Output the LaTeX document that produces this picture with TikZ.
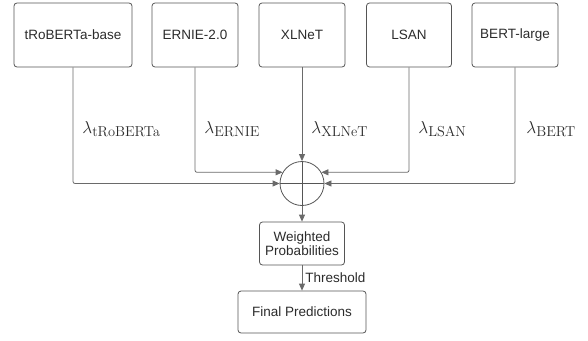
\documentclass[tikz,border=0pt]{standalone}
\usepackage[no-math]{fontspec}
\setmainfont{Liberation Sans}
\usetikzlibrary{arrows.meta}
\definecolor{edgegray}{HTML}{6A6A6A}
\definecolor{boxgray}{HTML}{555555}
\definecolor{textgray}{HTML}{2B2B2B}
\begin{document}
\begin{tikzpicture}[
      x=1pt, y=-1pt,
      thick,
      box/.style={
          rectangle, rounded corners=3pt,
          align=center,
          draw=boxgray, text=textgray,
          font=\fontsize{13.5}{15.5}\selectfont,
          minimum height=64pt, minimum width=86pt,
        },
      small/.style={box, minimum height=43pt},
      weight/.style={
          anchor=base west, inner sep=0pt, text=textgray,
          font=\fontsize{19}{22}\selectfont,
        },
      arr/.style={draw=edgegray, rounded corners=2pt,
          -{Triangle[length=7pt, width=6pt]}},
    ]
    \useasboundingbox (0,0) rectangle (588,340);

    % models
    \node[box, minimum width=118pt] (rob) at (73,35) {tRoBERTa-base};
    \node[box] (ern) at (195,35) {ERNIE-2.0};
    \node[box] (xln) at (302,35) {XLNeT};
    \node[box, minimum width=85pt] (lsa) at (409,35) {LSAN};
    \node[box] (ber) at (515,35) {BERT-large};

    % weighted sum
    \node[circle, draw=boxgray, minimum size=44pt, inner sep=0pt] (sum) at (302,183.5) {};
    \draw[boxgray] (sum.north) -- (sum.south) (sum.west) -- (sum.east);

    \node[small, minimum width=85pt] (wpr) at (302,243.5) {Weighted\\[-2pt]Probabilities};
    \node[small, minimum width=128pt, minimum height=42pt] (fpr) at (302,312) {Final Predictions};

    % weights
    \node[weight] (lrob) at (82,133) {$\lambda_{\mathrm{tRoBERTa}}$};
    \node[weight] (lern) at (204,133) {$\lambda_{\mathrm{ERNIE}}$};
    \node[weight] (lxln) at (311,133) {$\lambda_{\mathrm{XLNeT}}$};
    \node[weight] (llsa) at (418,133) {$\lambda_{\mathrm{LSAN}}$};
    \node[weight] (lber) at (526,133) {$\lambda_{\mathrm{BERT}}$};

    \draw[arr] (rob.south) |- (sum.west);
    \draw[arr] (ern.south) |- (sum.150);
    \draw[arr] (xln.south) -- (sum.north);
    \draw[arr] (lsa.south) |- (sum.30);
    \draw[arr] (ber.south) |- (sum.east);
    \draw[arr] (sum.south) -- (wpr.north);
    \draw[arr] (wpr.south) -- node[right, text=textgray,
        font=\fontsize{13.5}{15.5}\selectfont, inner sep=3pt] {Threshold} (fpr.north);
  \end{tikzpicture}
\end{document}
